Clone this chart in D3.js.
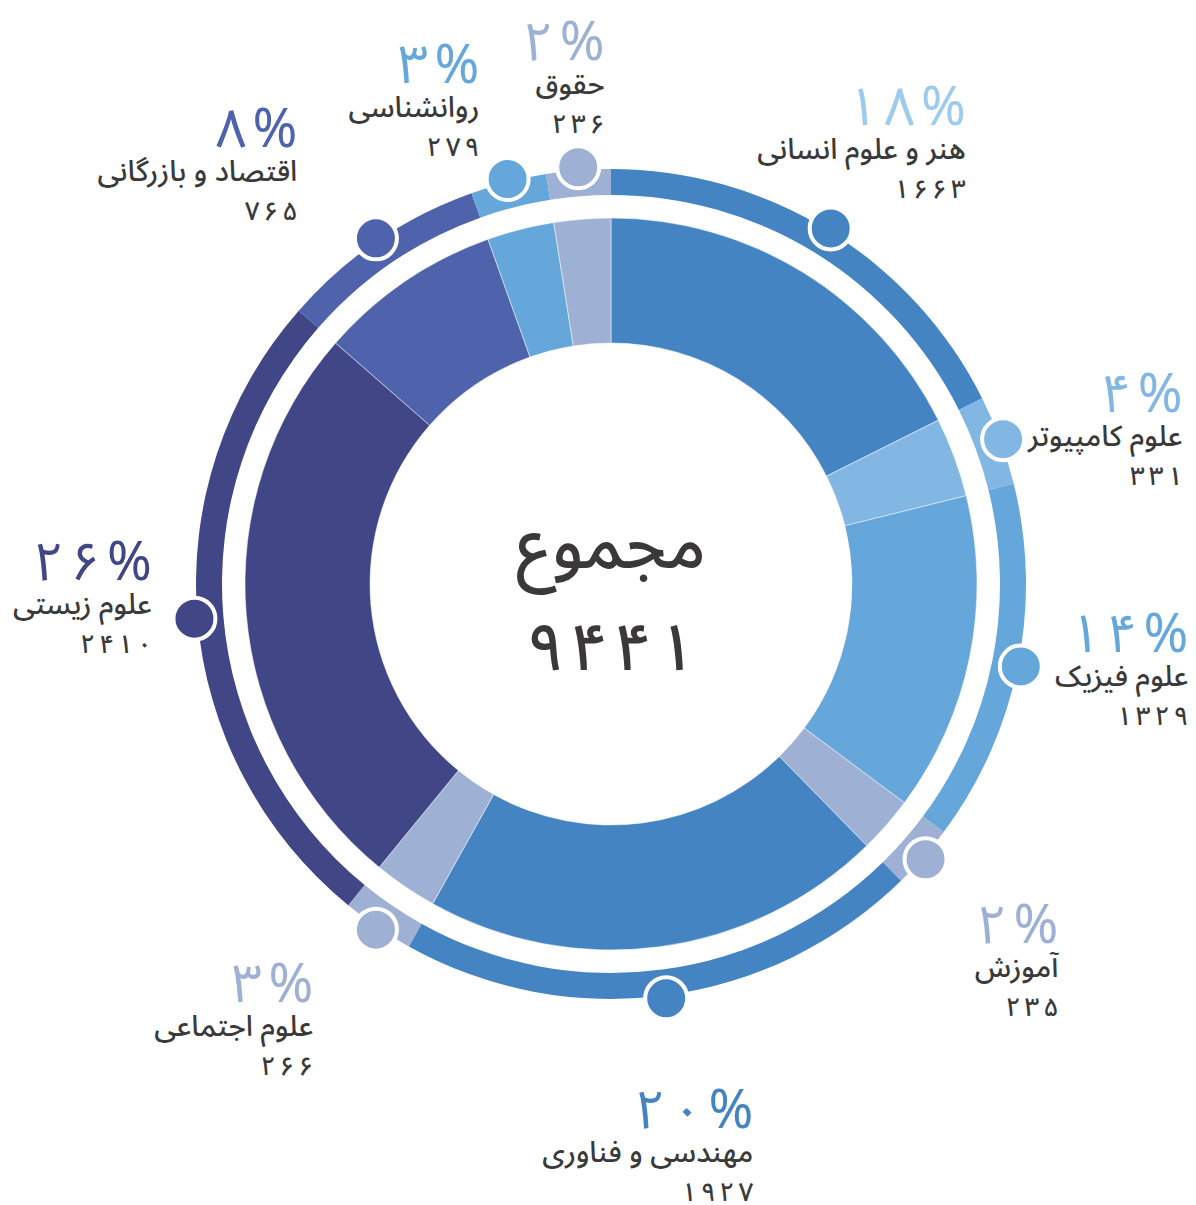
<!DOCTYPE html>
<html lang="fa">
<head>
<meta charset="utf-8">
<script src="https://cdn.jsdelivr.net/npm/d3@7/dist/d3.min.js"></script>
<style>
  html, body { margin: 0; padding: 0; background: #ffffff; }
  svg { display: block; }
  text { font-family: "Noto Sans Arabic", "Vazirmatn", "DejaVu Sans", "Noto Sans", sans-serif; }
</style>
</head>
<body>
<svg id="chart" width="1196" height="1205"></svg>
<script>
// ---------------- data ----------------
const categories = [
  "هنر و علوم انسانی",
  "علوم کامپیوتر",
  "علوم فیزیک",
  "آموزش",
  "مهندسی و فناوری",
  "علوم اجتماعی",
  "علوم زیستی",
  "اقتصاد و بازرگانی",
  "روانشناسی",
  "حقوق"
];
const values = [1663, 331, 1329, 235, 1927, 266, 2410, 765, 279, 236];
const totalTitle = "مجموع";

// ---------------- styles / layout ----------------
const sliceColors = ["#4584c2", "#82b7e4", "#65a7da", "#9eb0d4", "#4584c2",
                     "#9eb0d4", "#414786", "#4f63ac", "#65a7da", "#9eb0d4"];
const percentColors = ["#9dcbee", "#82b7e4", "#65a7da", "#9eb0d4", "#4584c2",
                       "#9eb0d4", "#414786", "#4f63ac", "#65a7da", "#9eb0d4"];
// label nudges (dx, dy) from the default polar anchor
const labelNudge = [[71, 0], [65, 15], [48, -38], [41, 3], [71, 9],
                    [6, -29], [79, -49], [-10, 10], [2, 22], [36, 14]];

const cx = 611, cy = 584;
const rInner = 241, rOuter = 366, ringInner = 389, ringOuter = 415;
const dotRadius = 418, labelRadius = 540;

const faDigits = s => String(s).replace(/\d/g, d => "۰۱۲۳۴۵۶۷۸۹"[+d]);

// write a digit string char by char so the glyphs can be spaced apart
function spaced(sel, str, gap) {
  sel.selectAll("tspan").data(Array.from(str)).join("tspan")
    .attr("dx", (c, i) => i === 0 ? 0 : gap)
    .text(c => c);
}

const svg = d3.select("#chart");
const g = svg.append("g").attr("transform", `translate(${cx},${cy})`);

const total = d3.sum(values);
const color = d3.scaleOrdinal(d3.range(categories.length), sliceColors);
const pctColor = d3.scaleOrdinal(d3.range(categories.length), percentColors);

const pie = d3.pie().sort(null).value(d => d.value);
const data = categories.map((c, i) => ({ name: c, value: values[i], i }));
const arcs = pie(data);

const mainArc = d3.arc().innerRadius(rInner).outerRadius(rOuter);
const ringArc = d3.arc().innerRadius(ringInner).outerRadius(ringOuter);

// outer thin ring
g.append("g").selectAll("path").data(arcs).join("path")
  .attr("d", ringArc)
  .attr("fill", d => color(d.data.i));

// main donut
g.append("g").selectAll("path").data(arcs).join("path")
  .attr("d", mainArc)
  .attr("fill", d => color(d.data.i))
  .attr("stroke", "rgba(255,255,255,0.6)")
  .attr("stroke-width", 0.8);

const midAngle = d => (d.startAngle + d.endAngle) / 2;
const polar = (a, r) => [r * Math.sin(a), -r * Math.cos(a)];

// dots
g.append("g").selectAll("circle").data(arcs).join("circle")
  .attr("cx", d => polar(midAngle(d), dotRadius)[0])
  .attr("cy", d => polar(midAngle(d), dotRadius)[1])
  .attr("r", 21)
  .attr("fill", d => color(d.data.i))
  .attr("stroke", "#ffffff")
  .attr("stroke-width", 4);

// labels
const labels = g.append("g").selectAll("g").data(arcs).join("g")
  .attr("transform", d => {
    const p = polar(midAngle(d), labelRadius);
    const n = labelNudge[d.data.i];
    return `translate(${p[0] + n[0]},${p[1] + n[1]})`;
  });

labels.append("text")
  .attr("text-anchor", "end")
  .attr("font-size", 54)
  .attr("fill", d => pctColor(d.data.i))
  .each(function (d) {
    spaced(d3.select(this), faDigits(Math.round(d.value / total * 100)) + "%", 6);
  });

labels.append("text")
  .attr("text-anchor", "end")
  .attr("y", 34)
  .attr("font-size", 29)
  .attr("font-weight", 500)
  .attr("fill", "#3a3a3a")
  .text(d => d.data.name);

labels.append("text")
  .attr("text-anchor", "end")
  .attr("y", 73)
  .attr("font-size", 26)
  .attr("font-weight", 500)
  .attr("fill", "#3a3a3a")
  .each(function (d) { spaced(d3.select(this), faDigits(d.value), 4); });

// center text
g.append("text")
  .attr("text-anchor", "middle")
  .attr("y", -16)
  .attr("font-size", 68)
  .attr("font-weight", 500)
  .attr("fill", "#3b3839")
  .text(totalTitle);

g.append("text")
  .attr("text-anchor", "middle")
  .attr("y", 86)
  .attr("font-size", 66)
  .attr("font-weight", 500)
  .attr("fill", "#3b3839")
  .call(sel => spaced(sel, faDigits(total), 6));
</script>
</body>
</html>
